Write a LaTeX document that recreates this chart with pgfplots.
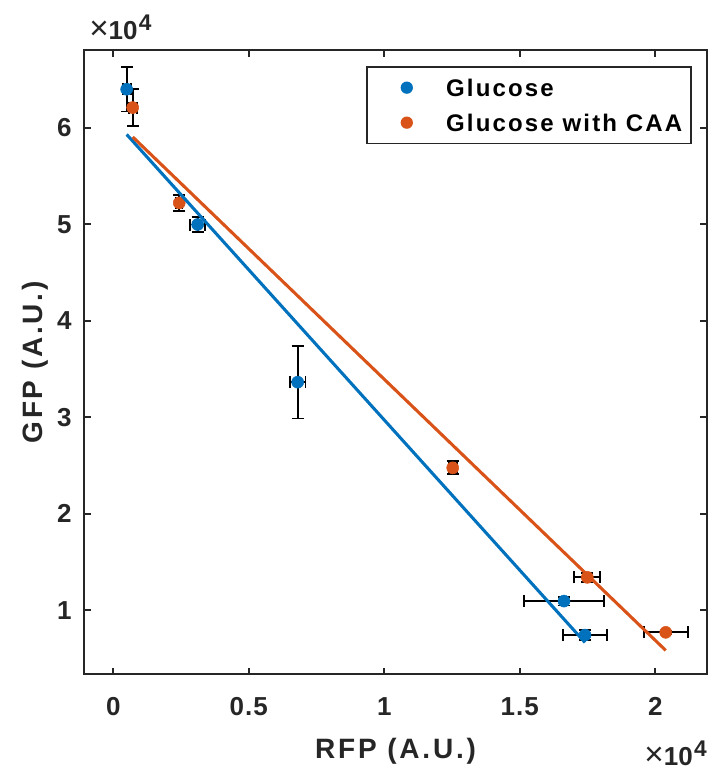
\documentclass[border=0pt]{standalone}
\usepackage{pgfplots}
\pgfplotsset{compat=1.18}
\usepackage{pgfplotstable}
\usepackage{fontspec}
\setmainfont{Liberation Sans}
\definecolor{mblue}{rgb}{0,0.447,0.741}
\definecolor{morange}{rgb}{0.85,0.325,0.098}
\definecolor{axgray}{rgb}{0.15,0.15,0.15}

\pgfplotstableread{
x y ex ey
494 64010 150 2300
3114 49990 285 780
6804 33650 290 3760
16631 10960 1476 450
17406 7440 800 520
}\glucose

\pgfplotstableread{
x y ex ey
716 62110 150 1950
2435 52230 120 815
12524 24770 150 675
17491 13420 480 485
20384 7720 812 150
}\glucosecaa

\begin{document}
\begin{tikzpicture}
\path[use as bounding box] (-63pt,-74pt) rectangle (471pt,505.7pt);
\begin{axis}[
  at={(0,0)}, anchor=south west,
  scale only axis, width=467.25pt, height=468pt,
  clip mode=individual,
  xmin=-1080, xmax=21910, ymin=3370, ymax=68050,
  xtick={0,5000,10000,15000,20000}, xticklabels={0,0.5,1,1.5,2},
  ytick={10000,20000,30000,40000,50000,60000}, yticklabels={1,2,3,4,5,6},
  scaled ticks=false,
  tick align=inside, major tick length=5pt,
  axis line style={axgray, line width=1.4pt},
  every tick/.style={axgray, line width=1.4pt},
  ticklabel style={text=axgray, font=\fontsize{19.5}{19.5}\selectfont\bfseries\addfontfeatures{LetterSpace=4}},
  xticklabel style={anchor=base, yshift=-30.75pt},
  yticklabel style={anchor=east, inner xsep=0pt, xshift=-9.2pt},
  xlabel={RFP (A.U.)}, ylabel={GFP (A.U.)},
  label style={text=axgray, font=\fontsize{21}{21}\selectfont\bfseries\addfontfeatures{LetterSpace=10}},
  xlabel style={at={(rel axis cs:0.5,-0.1346)}, anchor=base},
  ylabel style={at={(rel axis cs:-0.0674,0.5)}, anchor=base},
  legend style={at={(0.9759,0.9748)}, anchor=north east, draw=axgray, line width=1.2pt, fill=white,
    inner xsep=6.75pt, inner ysep=6.2pt, row sep=7.35pt, column sep=0pt,
    font=\fontsize{18}{18}\selectfont\bfseries\addfontfeatures{LetterSpace=9}, text=black,
    nodes={inner sep=0pt, text height=15.9pt, text depth=3pt}, cells={anchor=west}},
]
% error bars
\addplot[forget plot, only marks, mark=none,
  error bars/.cd, x dir=both, x explicit, y dir=both, y explicit,
  error bar style={draw=black, line width=1.4pt},
  error mark options={rotate=90, draw=black, fill=black, line width=1.4pt, mark size=4.5pt}]
  table[x=x, y=y, x error=ex, y error=ey] {\glucose};
\addplot[forget plot, only marks, mark=none,
  error bars/.cd, x dir=both, x explicit, y dir=both, y explicit,
  error bar style={draw=black, line width=1.4pt},
  error mark options={rotate=90, draw=black, fill=black, line width=1.4pt, mark size=4.5pt}]
  table[x=x, y=y, x error=ex, y error=ey] {\glucosecaa};
% markers on top
\addplot[forget plot, only marks, mark=*, mark size=4.5pt, color=mblue] table[x=x, y=y] {\glucose};
\addplot[forget plot, only marks, mark=*, mark size=4.5pt, color=morange] table[x=x, y=y] {\glucosecaa};
% fit lines
\addplot[forget plot, mblue, line width=2.3pt, no marks] coordinates {(494,59327) (17406,6669)};
\addplot[forget plot, morange, line width=2.3pt, no marks] coordinates {(716,59070) (20384,5850)};
% legend
\addlegendimage{legend image code/.code={\path[draw=none, fill=none] (0pt,0pt) -- (52.5pt,0pt); \fill[mblue, draw=none] (23pt,0pt) circle (4.6pt);}}
\addlegendentry{Glucose}
\addlegendimage{legend image code/.code={\path[draw=none, fill=none] (0pt,0pt) -- (52.5pt,0pt); \fill[morange, draw=none] (23pt,0pt) circle (4.6pt);}}
\addlegendentry{Glucose with CAA}
% exponent labels
\node[anchor=base west, inner sep=0pt, text=axgray, font=\fontsize{19.5}{19.5}\selectfont]
  at ([xshift=3.75pt, yshift=8.25pt] rel axis cs:0,1) {{\fontsize{25}{25}\selectfont ×}{\bfseries 10\kern1pt\raisebox{6.5pt}{\fontsize{17}{17}\selectfont 4}}};
\node[anchor=base east, inner sep=0pt, text=axgray, font=\fontsize{19.5}{19.5}\selectfont]
  at ([yshift=-68pt] rel axis cs:1,0) {{\fontsize{25}{25}\selectfont ×}{\bfseries 10\kern1pt\raisebox{6.5pt}{\fontsize{17}{17}\selectfont 4}}};
\end{axis}
\end{tikzpicture}
\end{document}
